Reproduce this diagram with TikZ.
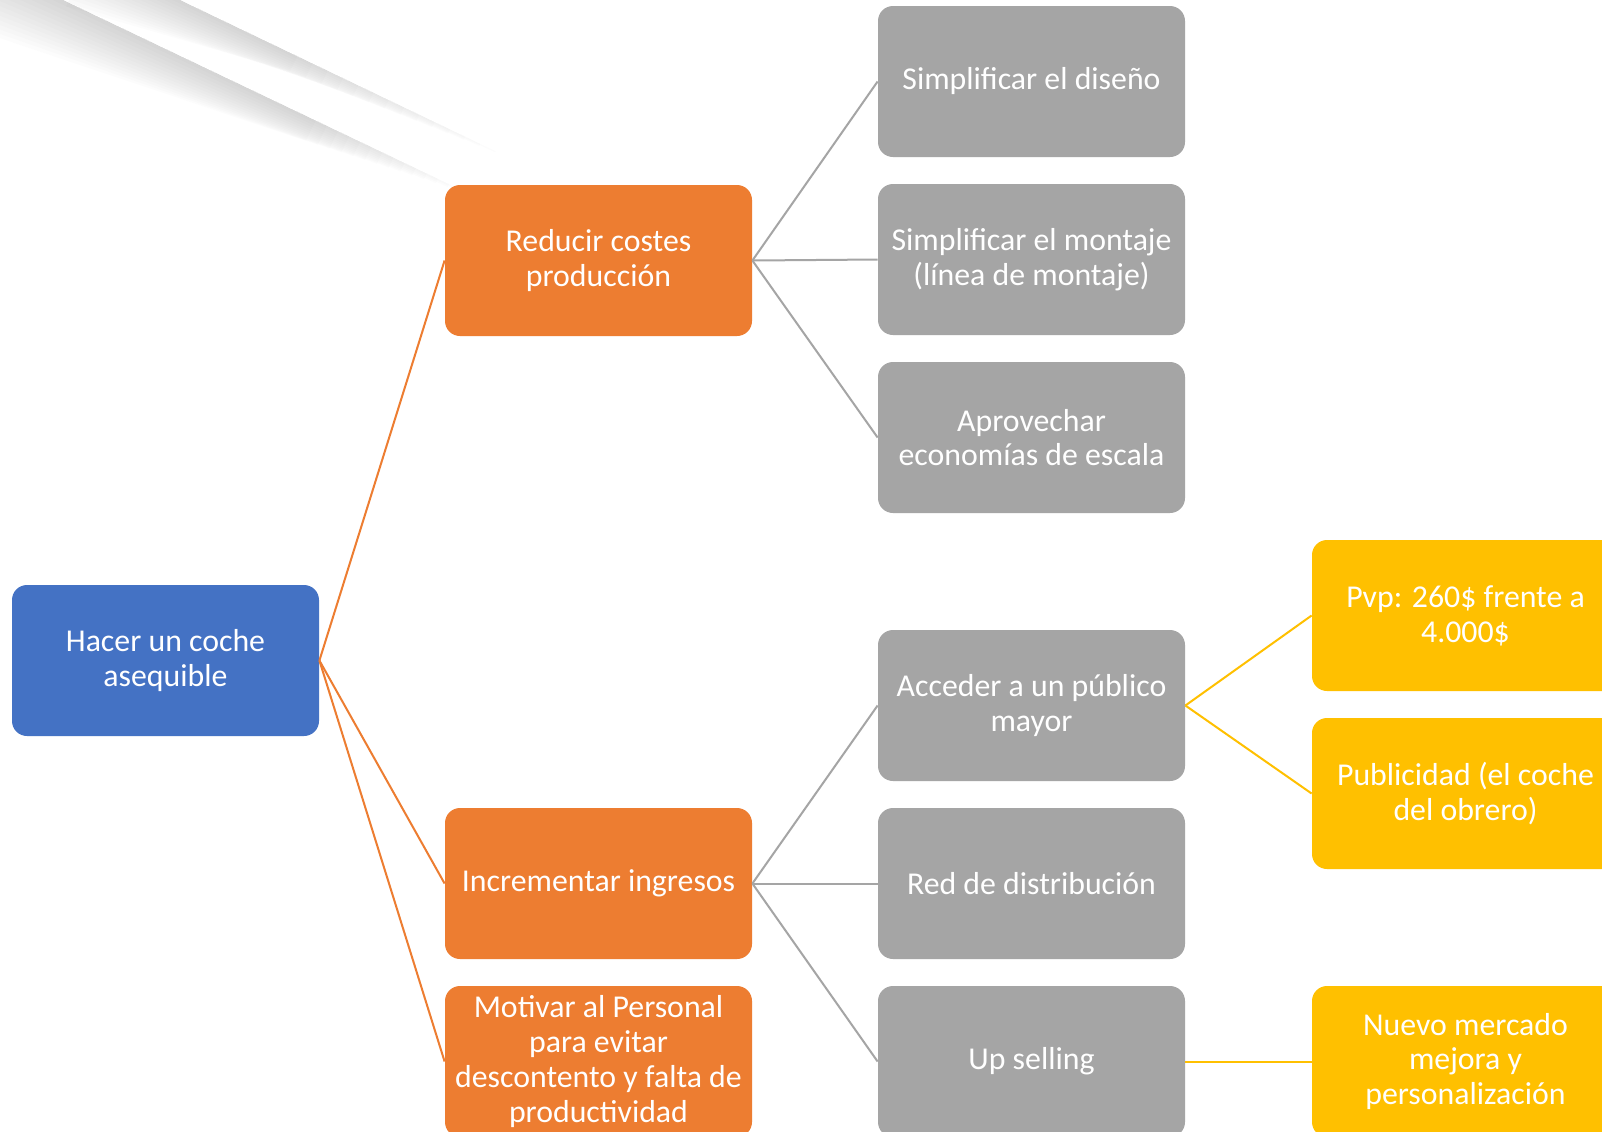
\documentclass[tikz,border=0pt]{standalone}
\usepackage{fontspec}
\setmainfont{Carlito}
\definecolor{cblue}{HTML}{4472C4}
\definecolor{corange}{HTML}{ED7D31}
\definecolor{cgray}{HTML}{A5A5A5}
\definecolor{cyellow}{HTML}{FFC000}
\tikzset{
  box/.style={rounded corners=7.5pt, minimum width=153.5pt, minimum height=75.5pt,
    text=white, align=center, inner sep=1pt,
    font=\fontsize{15.9}{17.4}\selectfont},
  bluebox/.style={box, fill=cblue},
  orangebox/.style={box, fill=corange},
  graybox/.style={box, fill=cgray},
  yellowbox/.style={box, fill=cyellow},
  olink/.style={draw=corange, line width=1pt},
  glink/.style={draw=cgray, line width=1pt},
  ylink/.style={draw=cyellow, line width=1pt},
}
\begin{document}
\begin{tikzpicture}[x=0.5pt, y=-0.5pt]
\useasboundingbox (0,0) rectangle (1602,1131);
\begin{scope}
\clip (0,0) rectangle (1602,1131);
\fill[white] (0,0) rectangle (1602,1131);
% soft light streaks in the upper left corner
\begin{scope}[shift={(63,0)}, rotate=-25.5]
  \foreach \k in {1,...,14}{
    \pgfmathsetmacro{\Lk}{440-160*(\k-1)/13}
    \pgfmathsetmacro{\Wk}{75*\k/14}
    \pgfmathsetmacro{\We}{0.3*\Wk}
    \fill[black, opacity=0.012] (-150,0) -- (\Lk,0) -- (\Lk,\We) -- (-150,\Wk) -- cycle;
  }
\end{scope}
\begin{scope}[shift={(180,0)}, rotate=-25.6]
  \foreach \k in {1,...,14}{
    \pgfmathsetmacro{\Lk}{350-220*(\k-1)/13}
    \pgfmathsetmacro{\Wk}{55*\k/14}
    \pgfmathsetmacro{\We}{0.3*\Wk}
    \fill[black, opacity=0.013] (-100,0) -- (\Lk,0) -- (\Lk,\We) -- (-100,\Wk) -- cycle;
  }
\end{scope}

% boxes
\node[bluebox]   (root) at (165.5,660.5)  {Hacer un coche\\asequible};
\node[orangebox] (red)  at (598.5,260.5)  {Reducir costes\\producción};
\node[orangebox] (inc)  at (598.5,883.5)  {Incrementar ingresos};
\node[orangebox] (mot)  at (598.5,1061.5) {Motivar al Personal\\para evitar\\descontento y falta de\\productividad};
\node[graybox]   (dis)  at (1031.5,81.5)   {Simplificar el diseño};
\node[graybox]   (mon)  at (1031.5,259.5)  {Simplificar el montaje\\(línea de montaje)};
\node[graybox]   (eco)  at (1031.5,437.5)  {Aprovechar\\economías de escala};
\node[graybox]   (acc)  at (1031.5,705.5)  {Acceder a un público\\mayor};
\node[graybox]   (dist) at (1031.5,883.5)  {Red de distribución};
\node[graybox]   (up)   at (1031.5,1061.5) {Up selling};
\node[yellowbox] (pvp)  at (1465.5,615.5)  {Pvp: 260\$ frente a\\4.000\$};
\node[yellowbox] (pub)  at (1465.5,793.5)  {Publicidad (el coche\\del obrero)};
\node[yellowbox] (nue)  at (1465.5,1061.5) {Nuevo mercado\\mejora y\\personalización};

% connectors
\draw[olink] (root.east) -- (red.west);
\draw[olink] (root.east) -- (inc.west);
\draw[olink] (root.east) -- (mot.west);
\draw[glink] (red.east) -- (dis.west);
\draw[glink] (red.east) -- (mon.west);
\draw[glink] (red.east) -- (eco.west);
\draw[glink] (inc.east) -- (acc.west);
\draw[glink] (inc.east) -- (dist.west);
\draw[glink] (inc.east) -- (up.west);
\draw[ylink] (acc.east) -- (pvp.west);
\draw[ylink] (acc.east) -- (pub.west);
\draw[ylink] (up.east) -- (nue.west);
\end{scope}
\end{tikzpicture}
\end{document}
